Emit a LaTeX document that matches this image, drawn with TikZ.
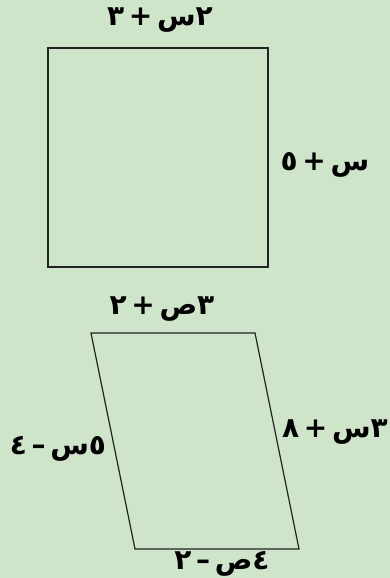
\documentclass[tikz,border=0pt]{standalone}
\usepackage{fontspec}
\newfontfamily\arabicfont[Script=Arabic]{DejaVu Sans}
\TeXXeTstate=1
\usepackage{tikz}
\usetikzlibrary{positioning}
\definecolor{pagegreen}{HTML}{CFE5C9}
\definecolor{edgegray}{HTML}{222222}
\tikzset{
  shapeline/.style={draw=edgegray,line width=1.2pt},
  sidelabel/.style={font=\arabicfont\bfseries\fontsize{28}{32}\selectfont,inner sep=0pt,text=black},
}

\begin{document}
\begin{tikzpicture}[x=1pt,y=-1pt]
    \fill[pagegreen] (0,0) rectangle (390,578);
    \useasboundingbox (0,0) rectangle (390,578);
    % square
    \coordinate (sq1) at (48,48);
    \coordinate (sq2) at (268,48);
    \coordinate (sq3) at (268,267);
    \coordinate (sq4) at (48,267);
    \draw[shapeline] (sq1)--(sq2)--(sq3)--(sq4)--cycle;
    \node[sidelabel] (sqtop) at (160,20) {\beginR ٢س\,+\,٣\endR};
    \node[sidelabel] (sqright) at (325,165) {\beginR س\,+\,٥\endR};
    % parallelogram
    \coordinate (pa1) at (91,333);
    \coordinate (pa2) at (255,333);
    \coordinate (pa3) at (299,549);
    \coordinate (pa4) at (135,549);
    \draw[shapeline] (pa1)--(pa2)--(pa3)--(pa4)--cycle;
    \node[sidelabel] (patop) at (162,309) {\beginR ٣ص\,+\,٢\endR};
    \node[sidelabel] (paleft) at (58,449) {\beginR ٥س\,–\,٤\endR};
    \node[sidelabel] (paright) at (335,432) {\beginR ٣س\,+\,٨\endR};
    \node[sidelabel] (pabottom) at (222,564) {\beginR ٤ص\,–\,٢\endR};
\end{tikzpicture}
\end{document}
